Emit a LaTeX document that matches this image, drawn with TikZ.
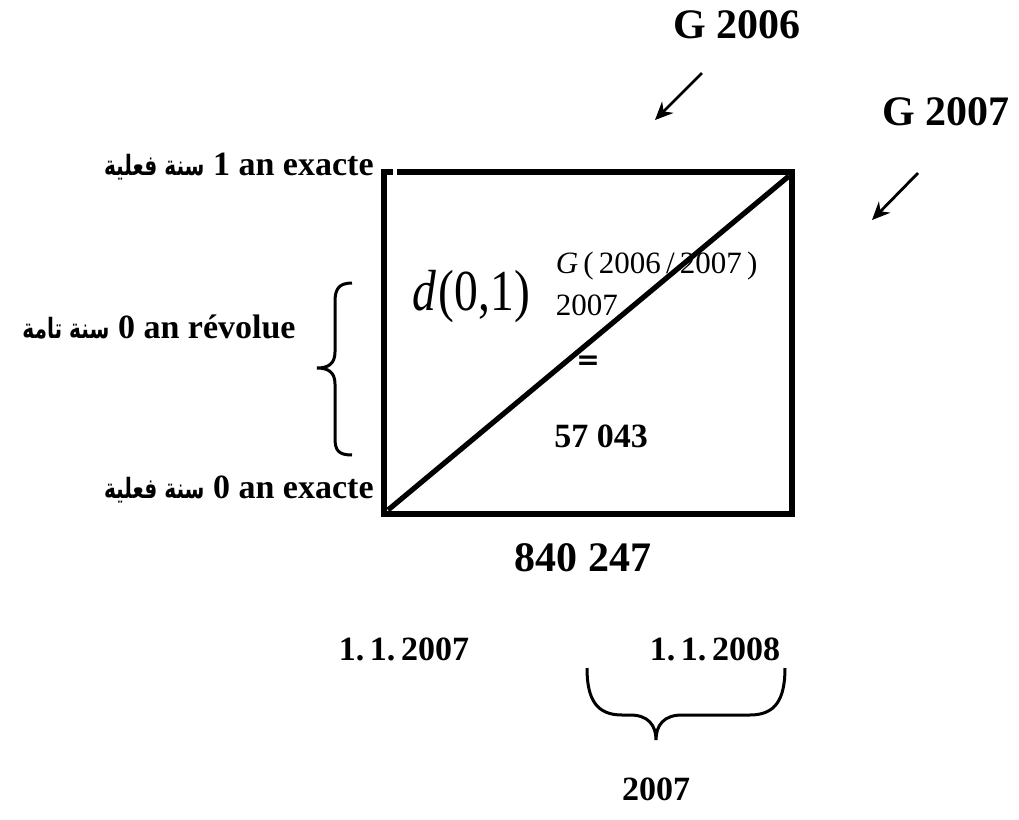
\documentclass[tikz,border=0pt]{standalone}
\usepackage{fontspec}
\setmainfont{LiberationSerif}[Extension=.ttf, UprightFont=*-Regular, BoldFont=*-Bold, ItalicFont=*-Italic, BoldItalicFont=*-BoldItalic]
\newfontfamily\arabicfont[Script=Arabic]{DejaVu Sans}
\TeXXeTstate=1
\usetikzlibrary{arrows.meta}
\tikzset{
  lbl/.style={font=\fontsize{17}{20}\selectfont\bfseries, inner sep=0pt},
  big/.style={font=\fontsize{21}{24}\selectfont\bfseries, inner sep=0pt},
  mid/.style={font=\fontsize{17}{20}\selectfont\bfseries, inner sep=0pt},
  boxline/.style={line width=3pt},
  diag/.style={line width=2.6pt},
  arr/.style={line width=1.4pt, -{Stealth[length=9pt,width=8pt]}},
  brace/.style={line width=1.5pt}
}
\newcommand{\ar}[1]{\scalebox{0.72}[1]{\arabicfont\bfseries\fontsize{14}{18}\selectfont\beginR #1\endR}}
\begin{document}
\begin{tikzpicture}[x=0.5pt,y=-0.5pt]
\useasboundingbox (0,0) rectangle (1019,820);
% box corners
\coordinate (tl) at (384,172);
\coordinate (tr) at (792,172);
\coordinate (br) at (792,514);
\coordinate (bl) at (384,514);
\coordinate (tlgap) at (397,172);
\coordinate (stub) at (393,172);
\draw[boxline] (384,169) -- (bl) -- (br) -- (792,169);
\draw[boxline] (tlgap) -- (tr);
\draw[boxline] (382,172) -- (stub);
% diagonal
\coordinate (d1) at (388,510);
\coordinate (d2) at (789,176);
\draw[diag] (d1) -- (d2);
% top labels and arrows
\node[big, anchor=base] (g6) at (737,38) {G 2006};
\node[big, anchor=base] (g7) at (946,125) {G 2007};
\coordinate (a1s) at (702,73);
\coordinate (a1e) at (655,120);
\coordinate (a2s) at (918,173);
\coordinate (a2e) at (872,220);
\draw[arr] (a1s) -- (a1e);
\draw[arr] (a2s) -- (a2e);
% left labels
\node[lbl, anchor=base east] (l1) at (374,175) {\ar{سنة فعلية} 1 an exacte};
\node[lbl, anchor=base east] (l2) at (296,338) {\ar{سنة تامة} 0 an révolue};
\node[lbl, anchor=base east] (l3) at (374,498) {\ar{سنة فعلية} 0 an exacte};
% left brace
\coordinate (lb1) at (352,283);
\coordinate (lb2) at (352,455);
\draw[brace] (lb1) .. controls (338,283) and (335,290) .. (335,302)
  -- (335,352) .. controls (335,364) and (328,368) .. (317,368)
  .. controls (328,368) and (335,372) .. (335,384)
  -- (335,438) .. controls (335,450) and (338,455) .. (lb2);
% formula
\node[inner sep=0pt, anchor=base west] (f) at (412,310) {\scalebox{0.82}[1]{\fontsize{29}{32}\selectfont\textit{d}\kern1.5pt(0,1)}\kern13pt\makebox[0pt][l]{\raisebox{18.5pt}{\fontsize{15.5}{18}\selectfont\textit{G}\,(\,2006\,/\,2007\,)}}\raisebox{-2.5pt}{\fontsize{15.5}{18}\selectfont 2007}};
\node[inner sep=0pt, anchor=center, font=\arabicfont\bfseries\fontsize{14}{16}\selectfont] (eq) at (588,363) {=};
\node[mid, anchor=base] (v1) at (601,447) {57 043};
\node[big, anchor=base] (v2) at (583,571) {840 247};
% dates
\node[mid, anchor=base] (dt1) at (404,660) {1.\,1.\,2007};
\node[mid, anchor=base] (dt2) at (715,660) {1.\,1.\,2008};
% bottom brace
\coordinate (bb1) at (587,668);
\coordinate (bb2) at (785,668);
\coordinate (btip) at (656,740);
\draw[brace] (bb1) .. controls (587,700) and (597,715) .. (622,715)
  -- (630,715) .. controls (648,715) and (656,725) .. (btip)
  .. controls (656,725) and (664,715) .. (682,715)
  -- (750,715) .. controls (775,715) and (785,700) .. (bb2);
\node[mid, anchor=base] (yr) at (656,800) {2007};
\end{tikzpicture}
\end{document}
